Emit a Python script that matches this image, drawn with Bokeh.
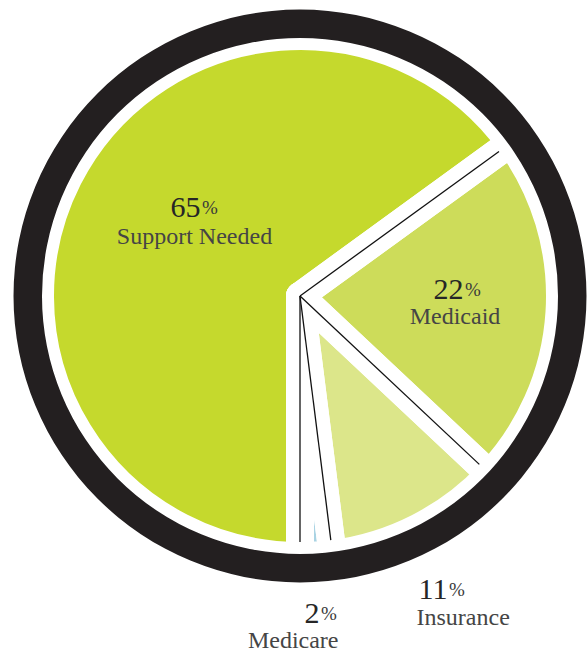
import numpy as np
from bokeh.plotting import figure
from bokeh.models import Range1d
from bokeh.core.properties import value
from bokeh.embed import file_html
from bokeh.resources import INLINE

# ---- data (clockwise from the bottom) ----
categories = ["Medicare", "Insurance", "Medicaid", "Support Needed"]
percents = [2, 11, 22, 65]
slice_colors = ["#a9d3e3", "#dce68a", "#cddc5a", "#c5d92d"]

# ---- layout (image pixels, converted to data with y up) ----
W, H = 588, 653
def Y(py):
    return H - py

cx, cy = 299.5, Y(295.5)
R_wedge = 260.0          # wedge radius (stroke erodes it to ~246)
gap_stroke = 28          # white stroke width -> white gaps between slices
R_line = 246.0
ring_in, ring_out = 258.0, 286.5
text_shift = 8           # rendered text sits lower than its anchor

# angles
fracs = np.array(percents, dtype=float) / sum(percents)
cum = np.concatenate([[0.0], np.cumsum(fracs)])
start_angles = np.deg2rad(-90 + 360 * cum[:-1])
end_angles = np.deg2rad(-90 + 360 * cum[1:])

p = figure(width=W, height=H, output_backend="svg", toolbar_location=None,
           x_range=Range1d(0, W), y_range=Range1d(0, H), min_border=0)
p.axis.visible = False
p.grid.visible = False
p.outline_line_color = None
p.background_fill_color = "white"
p.border_fill_color = "white"

n = len(categories)
# fills
p.wedge(x=[cx] * n, y=[cy] * n, radius=R_wedge, start_angle=start_angles,
        end_angle=end_angles, fill_color=slice_colors, line_color=None)
# white separating strokes
p.wedge(x=[cx] * n, y=[cy] * n, radius=R_wedge, start_angle=start_angles,
        end_angle=end_angles, fill_alpha=0, line_color="white",
        line_width=gap_stroke, line_join="round")

# thin black boundary lines
bound = np.deg2rad(-90 + 360 * cum[:-1])
p.segment(x0=[cx] * len(bound), y0=[cy] * len(bound),
          x1=cx + R_line * np.cos(bound), y1=cy + R_line * np.sin(bound),
          line_color="#111111", line_width=1.3)

# black ring
p.annulus(x=[cx], y=[cy], inner_radius=ring_in, outer_radius=ring_out,
          fill_color="#231f20", line_color=None)

# ---- labels ----
num_text = [f"{v}" for v in percents]
# (number right edge x, number baseline y, label x, label baseline y, label align)
label_pos = {
    "Medicare": (319, 621, 338, 647, "right"),
    "Insurance": (447, 597, 416, 624, "left"),
    "Medicaid": (463, 297, 454.5, 323, "center"),
    "Support Needed": (200, 215, 194, 243, "center"),
}
font = value("Liberation Serif")
for cat, num in zip(categories, num_text):
    nx, ny, lx, ly, la = label_pos[cat]
    ny -= text_shift
    ly -= text_shift
    p.text(x=[nx], y=[Y(ny)], text=[num], text_font=font, text_font_size="30px",
           text_align="right", text_baseline="alphabetic", text_color="#262626")
    p.text(x=[nx + 1.5], y=[Y(ny)], text=["%"], text_font=font, text_font_size="19px",
           text_align="left", text_baseline="alphabetic", text_color="#3a3a3a")
    p.text(x=[lx], y=[Y(ly)], text=[cat], text_font=font, text_font_size="24px",
           text_align=la, text_baseline="alphabetic", text_color="#454545")

open("out.html", "w").write(file_html(p, INLINE))
